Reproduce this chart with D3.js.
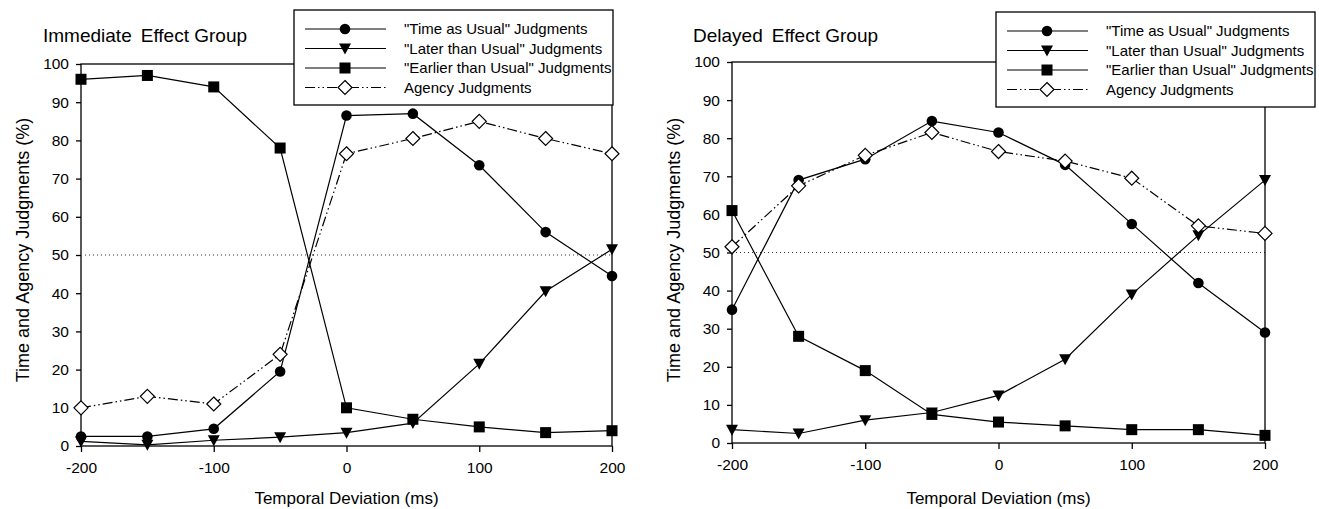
<!DOCTYPE html>
<html>
<head>
<meta charset="utf-8">
<script src="https://cdn.jsdelivr.net/npm/d3@7"></script>
<style>
  body { margin: 0; background: #fff; }
  svg { display: block; font-family: "Liberation Sans", Arial, sans-serif; }
</style>
</head>
<body>
<div id="chart"></div>
<script>
// data
const deviations = [-200, -150, -100, -50, 0, 50, 100, 150, 200];
const xTicks = [-200, -100, 0, 100, 200];
const yTicks = [0, 10, 20, 30, 40, 50, 60, 70, 80, 90, 100];
const seriesNames = ['"Time as Usual" Judgments', '"Later than Usual" Judgments', '"Earlier than Usual" Judgments', 'Agency Judgments'];

const immTime    = [2.5, 2.5, 4.5, 19.5, 86.5, 87, 73.5, 56, 44.5];
const immLater   = [1.2, 0.3, 1.5, 2.3, 3.5, 6, 21.5, 40.5, 51.5];
const immEarlier = [96, 97, 94, 78, 10, 7, 5, 3.5, 4];
const immAgency  = [10, 13, 11, 24, 76.5, 80.5, 85, 80.5, 76.5];

const delTime    = [35, 69, 74.5, 84.5, 81.5, 73, 57.5, 42, 29];
const delLater   = [3.5, 2.5, 6, 8, 12.5, 22, 39, 54.5, 69];
const delEarlier = [61, 28, 19, 7.5, 5.5, 4.5, 3.5, 3.5, 2];
const delAgency  = [51.5, 67.5, 75.5, 81.5, 76.5, 74, 69.5, 57, 55];

const width = 1319, height = 509;
const svg = d3.select("#chart").append("svg")
  .attr("width", width).attr("height", height);

const markers = ["circle", "triangle", "square", "diamond"];

function drawMarker(g, type, x, y) {
  if (type === "circle") {
    g.append("circle").attr("cx", x).attr("cy", y).attr("r", 5.3).attr("fill", "#000");
  } else if (type === "triangle") {
    g.append("path").attr("d", `M${x-6},${y-5}L${x+6},${y-5}L${x},${y+6}Z`).attr("fill", "#000");
  } else if (type === "square") {
    g.append("rect").attr("x", x-5.5).attr("y", y-5.5).attr("width", 11).attr("height", 11).attr("fill", "#000");
  } else {
    g.append("path").attr("d", `M${x},${y-7}L${x+7},${y}L${x},${y+7}L${x-7},${y}Z`)
      .attr("fill", "#fff").attr("stroke", "#000").attr("stroke-width", 1.2);
  }
}

const agencyDash = "10,3,1.5,3,1.5,3";

function drawPanel(p) {
  const x = d3.scaleLinear().domain([-200, 200]).range([p.left, p.right]);
  const y = d3.scaleLinear().domain([0, 100]).range([p.bottom, p.top]);
  const g = svg.append("g");

  // frame
  g.append("rect").attr("x", p.left).attr("y", p.top)
    .attr("width", p.right - p.left).attr("height", p.bottom - p.top)
    .attr("fill", "none").attr("stroke", "#000").attr("stroke-width", 1.3);

  // 50% reference
  g.append("line").attr("x1", p.left + 4).attr("x2", p.right)
    .attr("y1", y(50)).attr("y2", y(50))
    .attr("stroke", "#000").attr("stroke-width", 0.8).attr("stroke-dasharray", "1,3");

  // axes
  const yAxis = g.append("g").attr("transform", `translate(${p.left},0)`)
    .call(d3.axisLeft(y).tickValues(yTicks).tickSize(5).tickPadding(7).tickFormat(d => String(d)));
  const xAxis = g.append("g").attr("transform", `translate(0,${p.bottom})`)
    .call(d3.axisBottom(x).tickValues(xTicks).tickSize(6).tickPadding(10).tickFormat(d => String(d)));
  [yAxis, xAxis].forEach(a => {
    a.select(".domain").remove();
    a.selectAll("line").attr("stroke", "#000").attr("stroke-width", 1.3);
    a.selectAll("text").attr("font-size", 15.5).attr("fill", "#000")
      .attr("font-family", "Liberation Sans, Arial, sans-serif");
  });

  // series
  p.series.forEach((vals, i) => {
    const line = d3.line().x((d, j) => x(deviations[j])).y(d => y(d));
    g.append("path").datum(vals).attr("d", line)
      .attr("fill", "none").attr("stroke", "#000").attr("stroke-width", 1.2)
      .attr("stroke-dasharray", i === 3 ? agencyDash : null);
  });
  p.series.forEach((vals, i) => {
    vals.forEach((v, j) => drawMarker(g, markers[i], x(deviations[j]), y(v)));
  });

  // title (wider gap after the first word, as in the original)
  const words = p.title.split(" ");
  const t = g.append("text").attr("x", p.titleX).attr("y", 42).attr("font-size", 19);
  t.append("tspan").text(words[0]);
  t.append("tspan").attr("dx", 9).text(words.slice(1).join(" "));

  // axis labels
  g.append("text").attr("x", (p.left + p.right) / 2).attr("y", 504)
    .attr("text-anchor", "middle").attr("font-size", 17).text("Temporal Deviation (ms)");
  g.append("text")
    .attr("transform", `translate(${p.yLabelX},250) rotate(-90)`)
    .attr("text-anchor", "middle").attr("font-size", 18).text("Time and Agency Judgments (%)");

  // legend
  const lg = g.append("g").attr("transform", `translate(${p.legX},${p.legY})`);
  lg.append("rect").attr("width", 319).attr("height", 95)
    .attr("fill", "#fff").attr("stroke", "#000").attr("stroke-width", 1.3);
  seriesNames.forEach((name, i) => {
    const ry = 19 + i * 19.5;
    lg.append("line").attr("x1", 11).attr("x2", 92).attr("y1", ry).attr("y2", ry)
      .attr("stroke", "#000").attr("stroke-width", 1.2)
      .attr("stroke-dasharray", i === 3 ? agencyDash : null);
    drawMarker(lg, markers[i], 51, ry);
    lg.append("text").attr("x", 110).attr("y", ry + 5)
      .attr("font-size", 15).text(name);
  });
}

drawPanel({
  title: "Immediate Effect Group", titleX: 43, yLabelX: 29,
  left: 81, right: 612, top: 64, bottom: 446,
  legX: 294, legY: 10,
  series: [immTime, immLater, immEarlier, immAgency]
});
drawPanel({
  title: "Delayed Effect Group", titleX: 693, yLabelX: 680,
  left: 732, right: 1265, top: 62, bottom: 443,
  legX: 996, legY: 12,
  series: [delTime, delLater, delEarlier, delAgency]
});
</script>
</body>
</html>
